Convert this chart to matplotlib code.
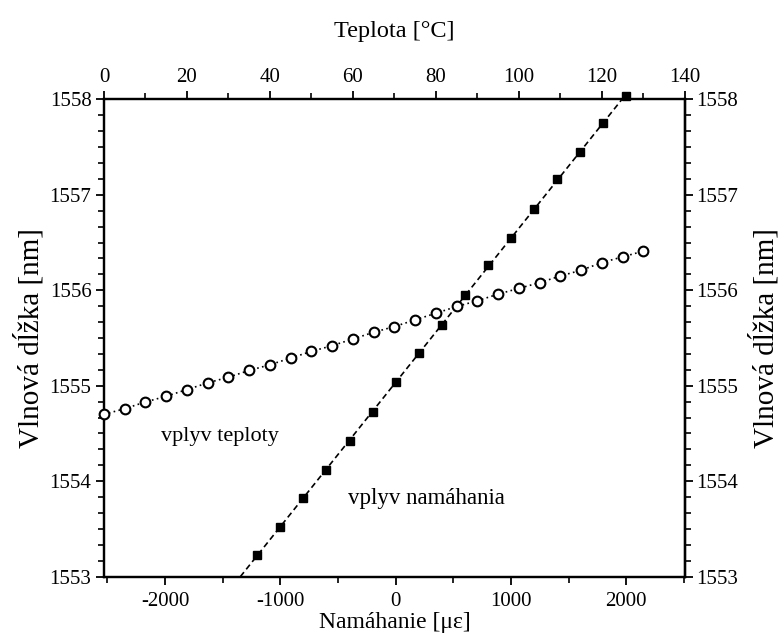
import numpy as np
import matplotlib
matplotlib.use("Agg")
import matplotlib.pyplot as plt
from matplotlib.ticker import MultipleLocator, FixedLocator

plt.rcParams['font.family'] = ['Liberation Serif', 'DejaVu Serif']

# Strain sweep: wavelength vs. applied strain
strain = [-1200, -1000, -800, -600, -400, -200, 0, 200, 400, 600, 800,
          1000, 1200, 1400, 1600, 1800, 2000]
wl_strain = [1553.23, 1553.52, 1553.82, 1554.12, 1554.42, 1554.73, 1555.04,
             1555.34, 1555.64, 1555.95, 1556.26, 1556.55, 1556.85, 1557.16,
             1557.45, 1557.75, 1558.03]

# Temperature sweep: wavelength vs. temperature
temperature = [0, 5, 10, 15, 20, 25, 30, 35, 40, 45, 50, 55, 60, 65, 70,
               75, 80, 85, 90, 95, 100, 105, 110, 115, 120, 125, 130]
wl_temp = [1554.70, 1554.76, 1554.83, 1554.89, 1554.96, 1555.03, 1555.09,
           1555.16, 1555.22, 1555.29, 1555.36, 1555.42, 1555.49, 1555.56,
           1555.62, 1555.69, 1555.76, 1555.83, 1555.89, 1555.96, 1556.02,
           1556.08, 1556.15, 1556.21, 1556.29, 1556.35, 1556.41]

strain_ticks = [-2000, -1000, 0, 1000, 2000]
temp_ticks = [0, 20, 40, 60, 80, 100, 120, 140]
wl_ticks = [1553, 1554, 1555, 1556, 1557, 1558]

fig = plt.figure(figsize=(7.8, 6.36), dpi=100)
ax = fig.add_axes([0.1333, 0.0932, 0.7449, 0.7507])
ax_t = ax.twiny()

lw_spine = 1.6
for a in (ax, ax_t):
    for s in a.spines.values():
        s.set_linewidth(lw_spine)

# Strain data with linear fit extended down to the lower limit
ax.set_xlim(-2530, 2510)
ax.set_ylim(1553, 1558)
coef = np.polyfit(strain, wl_strain, 1)
x_fit = np.array([(1553 - coef[1]) / coef[0], strain[-1]])
ax.plot(x_fit, np.polyval(coef, x_fit), color='black', lw=1.2,
        dashes=(3.5, 2.2), zorder=2)
ax.plot(strain, wl_strain, linestyle='none', marker='s', ms=6.3,
        mfc='black', mec='black', zorder=3, clip_on=False)

# Temperature data on the top axis
ax_t.set_xlim(0, 140)
ax_t.plot(temperature, wl_temp, color='black', lw=1.2, dashes=(1.0, 2.0),
          marker='o', ms=7, mfc='white', mec='black', mew=1.5,
          zorder=3, clip_on=False)

# Ticks
ax.xaxis.set_major_locator(FixedLocator(strain_ticks))
ax.xaxis.set_minor_locator(FixedLocator([-2500, -1500, -500, 500, 1500, 2500]))
ax.yaxis.set_major_locator(FixedLocator(wl_ticks))
ax.yaxis.set_minor_locator(MultipleLocator(1 / 6))
ax_t.xaxis.set_major_locator(FixedLocator(temp_ticks))
ax_t.xaxis.set_minor_locator(MultipleLocator(10))

ax.set_xticklabels([str(v) for v in strain_ticks])
ax.set_yticklabels([str(v) for v in wl_ticks])
ax_t.set_xticklabels([str(v) for v in temp_ticks])

for a in (ax, ax_t):
    a.tick_params(which='major', direction='out', length=6, width=1.3,
                  labelsize=15, pad=3, colors='black')
    a.tick_params(which='minor', direction='out', length=4, width=1.2)
ax.tick_params(axis='x', which='major', pad=5)

# Right-hand wavelength axis
ax_r = ax.secondary_yaxis('right')
ax_r.yaxis.set_major_locator(FixedLocator(wl_ticks))
ax_r.yaxis.set_minor_locator(MultipleLocator(1 / 6))
ax_r.set_yticklabels([str(v) for v in wl_ticks])
ax_r.tick_params(which='major', direction='out', length=6, width=1.3,
                 labelsize=15, pad=2)
ax_r.tick_params(which='minor', direction='out', length=4, width=1.2)
ax_r.spines['right'].set_linewidth(lw_spine)

ax.set_xlabel('Namáhanie [με]', fontsize=17, labelpad=1)
ax_t.set_xlabel('Teplota [°C]', fontsize=17.5, labelpad=22)
ax.set_ylabel('Vlnová dĺžka [nm]', fontsize=21, labelpad=4)
ax_r.set_ylabel('Vlnová dĺžka [nm]', fontsize=21, labelpad=8)

ax.text(-1520, 1554.47, 'vplyv teploty', fontsize=16, ha='center', va='center')
ax.text(265, 1553.82, 'vplyv namáhania', fontsize=16.5, ha='center', va='center')

fig.savefig('out.png', dpi=100, facecolor='white')
